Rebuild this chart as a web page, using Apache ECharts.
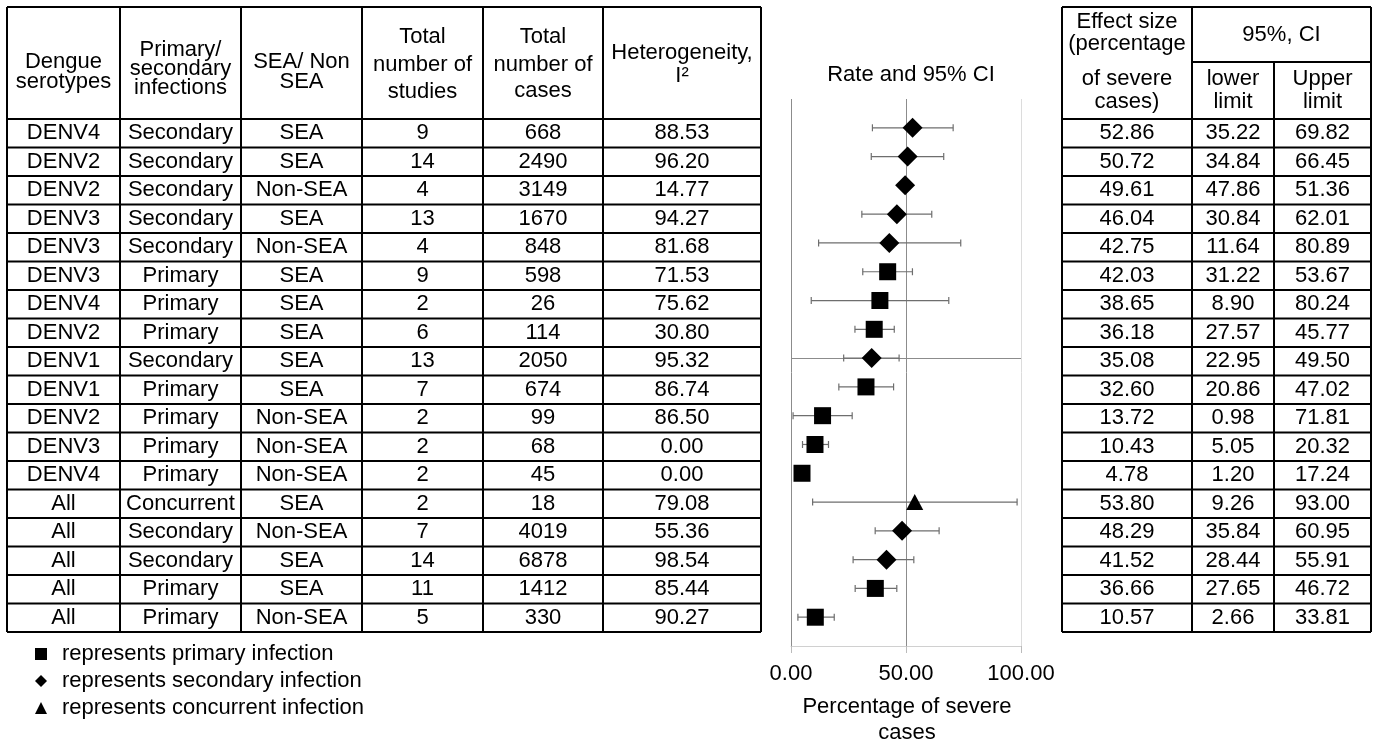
<!DOCTYPE html>
<html><head><meta charset="utf-8">
<script src="https://cdn.jsdelivr.net/npm/echarts@6/dist/echarts.min.js"></script>
<style>html,body{margin:0;padding:0;background:#fff}#c{width:1375px;height:742px}</style>
</head><body><div id="c"></div>
<script>
// ---------------- data ----------------
const serotypes = ['DENV4','DENV2','DENV2','DENV3','DENV3','DENV3','DENV4','DENV2','DENV1','DENV1','DENV2','DENV3','DENV4','All','All','All','All','All'];
const infection = ['Secondary','Secondary','Secondary','Secondary','Secondary','Primary','Primary','Primary','Secondary','Primary','Primary','Primary','Primary','Concurrent','Secondary','Secondary','Primary','Primary'];
const region = ['SEA','SEA','Non-SEA','SEA','Non-SEA','SEA','SEA','SEA','SEA','SEA','Non-SEA','Non-SEA','Non-SEA','SEA','Non-SEA','SEA','SEA','Non-SEA'];
const studies = [9,14,4,13,4,9,2,6,13,7,2,2,2,2,7,14,11,5];
const cases = [668,2490,3149,1670,848,598,26,114,2050,674,99,68,45,18,4019,6878,1412,330];
const heterogeneity = [88.53,96.20,14.77,94.27,81.68,71.53,75.62,30.80,95.32,86.74,86.50,0.00,0.00,79.08,55.36,98.54,85.44,90.27];
const effect = [52.86,50.72,49.61,46.04,42.75,42.03,38.65,36.18,35.08,32.60,13.72,10.43,4.78,53.80,48.29,41.52,36.66,10.57];
const lower = [35.22,34.84,47.86,30.84,11.64,31.22,8.90,27.57,22.95,20.86,0.98,5.05,1.20,9.26,35.84,28.44,27.65,2.66];
const upper = [69.82,66.45,51.36,62.01,80.89,53.67,80.24,45.77,49.50,47.02,71.81,20.32,17.24,93.00,60.95,55.91,46.72,33.81];
const barLow = [35.4,34.9,47.9,30.8,12.0,31.2,8.8,27.8,22.9,20.8,0.9,5.0,2.0,9.4,36.6,27.0,27.9,3.0];
const barHigh = [70.5,66.4,51.4,61.2,73.8,52.8,68.6,44.9,47.0,44.6,26.6,16.3,7.5,98.3,64.4,53.4,46.0,18.8];
const xTicks = [0, 50, 100];
const refRow = 8; // horizontal reference line row (DENV1 Secondary SEA)
const headerLeft = [['Dengue','serotypes'],['Primary/','secondary','infections'],['SEA/ Non','SEA'],['Total','number of','studies'],['Total','number of','cases'],['Heterogeneity,','I\u00B2']];
const headerEffect = ['Effect size','(percentage','of severe','cases)'];
const headerCI = '95%, CI';
const headerLower = ['lower','limit'];
const headerUpper = ['Upper','limit'];
const plotTitle = 'Rate and 95% CI';
const axisTitle = ['Percentage of severe','cases'];
const legendNames = {Primary:'represents primary infection', Secondary:'represents secondary infection', Concurrent:'represents concurrent infection'};

// ---------------- layout ----------------
const FF = '"Liberation Sans", Arial, sans-serif';
const FONT = '22px ' + FF;
const TOP = 7, ROW_TOP = 119, ROW_H = 28.5, N = serotypes.length;
const BOTTOM = ROW_TOP + N * ROW_H;
const LCOLS = [7,120,241,362,483,603,761];
const RCOLS = [1062,1192,1274,1371];
const LHEAD_Y = [[61.5,81.5],[50,69,88],[61.5,81.5],[37,64.5,91.5],[37,64.5,91],[53,76]];
const EFF_Y = [22,44,79,102];
const SUB_Y = [79,102];

function txt(x, y, s, align) {
  return {type:'text', x:x, y:y, silent:true, z:10,
    style:{text:s, font:FONT, fill:'#000', align:align||'center', verticalAlign:'middle',
           textAlign:align||'center', textVerticalAlign:'middle'}};
}
function ln(x1, y1, x2, y2) {
  return {type:'line', silent:true, z:10, shape:{x1:x1,y1:y1,x2:x2,y2:y2}, style:{stroke:'#000', lineWidth:2}};
}
const mid = (a, b) => (a + b) / 2;

const g = [];
// left table grid
g.push(ln(LCOLS[0], TOP, LCOLS[6], TOP));
for (let i = 0; i <= N; i++) g.push(ln(LCOLS[0], ROW_TOP + i * ROW_H, LCOLS[6], ROW_TOP + i * ROW_H));
LCOLS.forEach(x => g.push(ln(x, TOP, x, BOTTOM)));
// right table grid
g.push(ln(RCOLS[0], TOP, RCOLS[3], TOP));
g.push(ln(RCOLS[1], 62, RCOLS[3], 62));
for (let i = 0; i <= N; i++) g.push(ln(RCOLS[0], ROW_TOP + i * ROW_H, RCOLS[3], ROW_TOP + i * ROW_H));
g.push(ln(RCOLS[0], TOP, RCOLS[0], BOTTOM));
g.push(ln(RCOLS[1], TOP, RCOLS[1], BOTTOM));
g.push(ln(RCOLS[2], 62, RCOLS[2], BOTTOM));
g.push(ln(RCOLS[3], TOP, RCOLS[3], BOTTOM));
// headers
headerLeft.forEach((lines, c) => lines.forEach((s, k) => g.push(txt(mid(LCOLS[c], LCOLS[c+1]), LHEAD_Y[c][k], s))));
headerEffect.forEach((s, k) => g.push(txt(mid(RCOLS[0], RCOLS[1]), EFF_Y[k], s)));
g.push(txt(mid(RCOLS[1], RCOLS[3]), 35, headerCI));
headerLower.forEach((s, k) => g.push(txt(mid(RCOLS[1], RCOLS[2]), SUB_Y[k], s)));
headerUpper.forEach((s, k) => g.push(txt(mid(RCOLS[2], RCOLS[3]), SUB_Y[k], s)));
// body rows
for (let i = 0; i < N; i++) {
  const y = ROW_TOP + (i + 0.5) * ROW_H;
  const cells = [serotypes[i], infection[i], region[i], String(studies[i]), String(cases[i]), heterogeneity[i].toFixed(2)];
  cells.forEach((s, c) => g.push(txt(mid(LCOLS[c], LCOLS[c+1]), y, s)));
  [effect[i], lower[i], upper[i]].forEach((v, c) => g.push(txt(mid(RCOLS[c], RCOLS[c+1]), y, v.toFixed(2))));
}
// plot title and axis title
g.push(txt(911, 75, plotTitle));
axisTitle.forEach((s, k) => g.push(txt(907, 707 + k * 26, s)));

// ---------------- series ----------------
const whiskerData = barLow.map((lo, i) => [lo, barHigh[i], i]);
function scatterFor(type) {
  const d = [];
  for (let i = 0; i < N; i++) if (infection[i] === type) d.push([effect[i], i]);
  return d;
}
const symbolOf = {Primary:'rect', Secondary:'diamond', Concurrent:'triangle'};
const sizeOf = {Primary:17, Secondary:20, Concurrent:[17,16]};
const Y_MIN = -1, Y_MAX = N;

const series = [{
  type:'custom', name:'ci', z:2, silent:true, clip:false,
  encode:{x:[0,1], y:2},
  data: whiskerData,
  renderItem: function (params, api) {
    const row = api.value(2);
    const p1 = api.coord([api.value(0), row]);
    const p2 = api.coord([api.value(1), row]);
    const h = 3.5;
    const st = {stroke:'#6e6e6e', lineWidth:1.2};
    return {type:'group', children:[
      {type:'line', shape:{x1:p1[0], y1:p1[1], x2:p2[0], y2:p2[1]}, style:st},
      {type:'line', shape:{x1:p1[0], y1:p1[1]-h, x2:p1[0], y2:p1[1]+h}, style:st},
      {type:'line', shape:{x1:p2[0], y1:p2[1]-h, x2:p2[0], y2:p2[1]+h}, style:st}
    ]};
  }
}];
['Primary','Secondary','Concurrent'].forEach((t, idx) => {
  const s = {
    type:'scatter', name:legendNames[t], z:3, symbol:symbolOf[t], symbolSize:sizeOf[t],
    itemStyle:{color:'#000', opacity:1}, silent:true,
    data: scatterFor(t)
  };
  if (idx === 0) {
    const vLines = xTicks.map((v, k) => [
      {coord:[v, Y_MIN], lineStyle:{color: k === xTicks.length - 1 ? '#dcdcdc' : '#8c8c8c', width:1, type:'solid'}},
      {coord:[v, Y_MAX]}
    ]);
    const hLine = [[
      {coord:[xTicks[0], refRow], lineStyle:{color:'#8c8c8c', width:1, type:'solid'}},
      {coord:[xTicks[xTicks.length-1], refRow]}
    ]];
    s.markLine = {
      silent:true, z:1, symbol:['none','none'], label:{show:false}, animation:false,
      data: vLines.concat(hLine)
    };
  }
  series.push(s);
});

const chart = echarts.init(document.getElementById('c'), null, {renderer:'canvas'});
chart.setOption({
  animation:false,
  backgroundColor:'#fff',
  grid:{left:791, right:354, top:99, bottom:96, containLabel:false},
  xAxis:{type:'value', min:xTicks[0], max:xTicks[xTicks.length-1], interval:xTicks[1]-xTicks[0],
    axisLine:{show:true, onZero:false, lineStyle:{color:'#d0d0d0', width:1}},
    axisTick:{show:true, length:7, lineStyle:{color:'#bbbbbb'}},
    axisLabel:{formatter:v => v.toFixed(2), fontSize:22, fontFamily:FF, color:'#000', margin:17},
    splitLine:{show:false}},
  yAxis:{type:'value', min:Y_MIN, max:Y_MAX, inverse:true, show:false},
  legend:{orient:'vertical', left:30, top:638, itemWidth:12, itemHeight:12, itemGap:5, selectedMode:false,
    textStyle:{fontSize:22, fontFamily:FF, color:'#000', padding:[0,0,0,10]},
    data:[legendNames.Primary, legendNames.Secondary, legendNames.Concurrent]},
  series:series,
  graphic:g
});
</script></body></html>
